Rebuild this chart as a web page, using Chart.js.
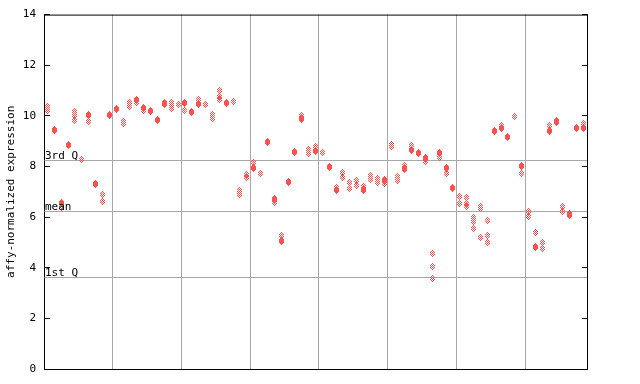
<!DOCTYPE html>
<html><head><meta charset="utf-8">
<script src="https://cdn.jsdelivr.net/npm/chart.js@4/dist/chart.umd.min.js"></script>
<style>html,body{margin:0;padding:0;background:#fff}#wrap{width:640px;height:384px}</style>
</head><body><div id="wrap"><canvas id="c" width="640" height="384"></canvas></div>
<script>
// replicate expression values per sample (sample index 0..78); null = no replicate
const rep1 = [10.38,9.48,6.58,8.88,10.18,8.26,10.07,7.34,6.89,10.05,
  10.31,9.78,10.52,10.66,10.34,10.23,9.87,10.52,10.52,10.43,
  10.52,10.19,10.63,10.43,10.07,11.02,10.51,10.58,7.05,7.68,
  8.16,7.71,8.98,6.72,5.28,7.41,8.59,10.00,8.66,8.77,
  8.54,8.00,7.17,7.75,7.35,7.45,7.22,7.65,7.52,7.47,
  8.88,7.60,8.03,8.82,8.56,8.35,4.56,8.54,7.96,7.17,
  6.80,6.77,6.00,6.40,5.87,9.44,9.61,9.18,9.97,8.03,
  6.22,5.38,4.99,9.61,9.83,6.40,6.13,9.53,9.68];
const rep2 = [10.20,9.42,6.54,8.84,10.00,null,10.02,7.30,6.62,10.01,
  10.27,9.70,10.36,10.62,10.30,10.19,9.83,10.48,10.38,null,
  10.47,10.15,10.50,null,9.90,10.76,10.47,null,6.91,7.55,
  7.96,null,8.94,6.68,5.07,7.37,8.55,9.90,8.50,8.62,
  null,7.96,7.10,7.58,7.12,7.25,7.10,7.49,7.38,7.43,
  8.78,7.45,7.92,8.66,8.52,8.31,4.05,8.50,7.92,7.13,
  6.53,6.53,5.83,6.36,5.28,9.40,9.54,9.14,null,7.99,
  6.03,4.85,4.75,9.41,9.76,6.24,6.09,9.49,9.53];
const rep3 = [null,null,6.38,null,9.83,null,9.78,null,null,null,
  null,null,null,10.52,10.21,null,null,10.44,10.30,null,
  10.20,null,10.46,null,null,10.66,null,null,null,null,
  7.92,null,null,6.56,5.03,null,null,9.86,null,8.58,
  null,null,7.06,null,null,null,7.06,null,null,7.33,
  null,null,7.88,8.62,null,8.18,3.58,8.34,7.71,null,
  null,6.40,5.54,5.21,4.99,null,9.50,null,null,7.71,
  null,4.78,null,9.37,9.72,null,6.05,null,9.49];
const yTicks = [0,2,4,6,8,10,12,14];
const groupBoundaries = [9.5,19.5,29.5,39.5,49.5,59.5,69.5];
const refLabels = ['3rd Q','mean','1st Q'];
const refValues = [8.22,6.21,3.61];
const xMin = -0.5, xMax = 78.5;

const RED = '#ff5050';
const GRID = '#a8a8a8';
const FONT = '"DejaVu Sans Mono", "Liberation Mono", monospace';

// checkered diamond marker
function makeMarker(){
  const c = document.createElement('canvas');
  c.width = 5; c.height = 7;
  const g = c.getContext('2d');
  g.fillStyle = RED;
  const half = [0,1,2,2,2,1,0];
  for (let y=0;y<7;y++){
    for (let x=2-half[y]; x<=2+half[y]; x++){
      if ((x+y)%2===0) g.fillRect(x,y,1,1);
    }
  }
  return c;
}
const marker = makeMarker();

function toPoints(arr){
  const out=[];
  arr.forEach((v,i)=>{ if(v!==null) out.push({x:i,y:v}); });
  return out;
}

const datasets = [];
refValues.forEach(v=>{
  datasets.push({type:'line', data:[{x:xMin,y:v},{x:xMax,y:v}], borderColor:GRID, borderWidth:1,
    pointRadius:0, fill:false, order:5});
});
[rep1,rep2,rep3].forEach(r=>{
  datasets.push({type:'scatter', data:toPoints(r), pointStyle:marker, pointRadius:3, order:1});
});

const snapPlugin = {
  id:'snap',
  afterDatasetsUpdate(chart){
    chart.data.datasets.forEach((ds,i)=>{
      const meta = chart.getDatasetMeta(i);
      meta.data.forEach(el=>{
        el.x = Math.floor(el.x)+0.5;
        el.y = Math.floor(el.y)+0.5;
      });
    });
  }
};

const framePlugin = {
  id:'frame',
  afterDraw(chart){
    const ctx = chart.ctx, a = chart.chartArea, ys = chart.scales.y;
    ctx.save();
    ctx.strokeStyle = '#000'; ctx.lineWidth = 1;
    ctx.beginPath();
    ctx.moveTo(a.left, a.top+0.5); ctx.lineTo(a.right+1, a.top+0.5);
    ctx.moveTo(a.right+0.5, a.top); ctx.lineTo(a.right+0.5, a.bottom+1);
    yTicks.forEach(t=>{
      const py = Math.floor(ys.getPixelForValue(t))+0.5;
      ctx.moveTo(a.left, py); ctx.lineTo(a.left+6, py);
      ctx.moveTo(a.right-5, py); ctx.lineTo(a.right+1, py);
    });
    ctx.stroke();
    ctx.fillStyle = '#000';
    ctx.font = '11px ' + FONT;
    ctx.textBaseline = 'alphabetic';
    ctx.textAlign = 'left';
    refLabels.forEach((l,i)=>{
      const py = Math.floor(ys.getPixelForValue(refValues[i]));
      ctx.fillText(l, a.left+1, py-1);
    });
    ctx.restore();
  }
};

new Chart(document.getElementById('c'), {
  type:'scatter',
  data:{datasets},
  options:{
    responsive:false, animation:false, devicePixelRatio:1,
    layout:{padding:{top:13,right:53,bottom:0,left:0}},
    plugins:{legend:{display:false}, tooltip:{enabled:false}},
    scales:{
      x:{type:'linear', min:xMin, max:xMax,
        afterBuildTicks(s){ s.ticks = groupBoundaries.map(v=>({value:v})); },
        afterFit(s){ s.height = 15; },
        ticks:{display:false},
        grid:{color:GRID, lineWidth:1, drawTicks:false},
        border:{display:true, color:'#000', width:1}
      },
      y:{type:'linear', min:0, max:14,
        afterBuildTicks(s){ s.ticks = yTicks.map(v=>({value:v})); },
        afterFit(s){ s.width = 44; },
        ticks:{color:'#000', padding:8, font:{family:FONT, size:11}},
        grid:{drawOnChartArea:false, drawTicks:false},
        border:{display:true, color:'#000', width:1},
        title:{display:true, text:'affy-normalized expression', color:'#000',
          font:{family:FONT, size:11}, padding:{top:5,bottom:0}}
      }
    }
  },
  plugins:[snapPlugin, framePlugin]
});
</script></body></html>
